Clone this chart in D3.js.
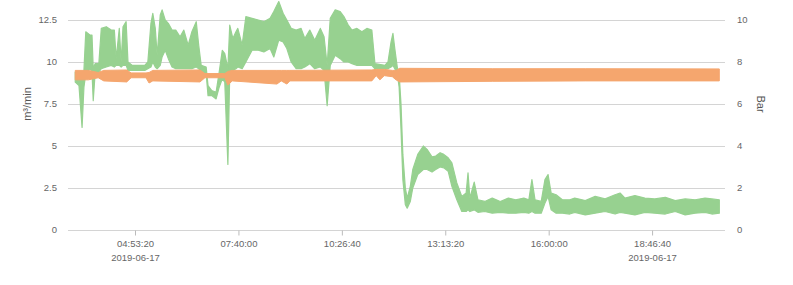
<!DOCTYPE html>
<html><head><meta charset="utf-8">
<script src="https://cdn.jsdelivr.net/npm/d3@7/dist/d3.min.js"></script>
<style>
body{margin:0;background:#fff;}
text{font-family:"Liberation Sans",Arial,sans-serif;}
</style></head>
<body><svg id="chart" width="793" height="285"></svg>
<script>
// ---- data ----
const flowTimes = ["03:17","03:23","03:28","03:31","03:34","03:41","03:44","03:46","03:49","03:55",
"03:59","04:07","04:15","04:20","04:23","04:28","04:31","04:34","04:39","04:42",
"04:49","05:09","05:14","05:19","05:22","05:26","05:29","05:34","05:37","05:42",
"05:47","05:53","05:59","06:06","06:12","06:19","06:25","06:32","06:36","06:40",
"06:48","06:51","06:57","07:04","07:09","07:14","07:18","07:23","07:26","07:31",
"07:36","07:39","07:46","07:52","08:02","08:12","08:21","08:31","08:37","08:45",
"08:52","08:58","09:05","09:13","09:21","09:27","09:35","09:43","09:52","09:58",
"10:03","10:08","10:16","10:24","10:30","10:37","10:43","10:51","10:59","11:07",
"11:15","11:20","11:36","11:41","11:46","11:49","11:52","11:56","11:59","12:02",
"12:05","12:09","12:12","12:17","12:21","12:29","12:38","12:44","12:52","12:58",
"13:05","13:11","13:18","13:24","13:32","13:40","13:47","13:50","13:53","14:00",
"14:06","14:17","14:29","14:42","14:55","15:07","15:20","15:28","15:33","15:38",
"15:48","15:54","15:59","16:04","16:12","16:22","16:34","16:42","16:59","17:15",
"17:31","17:47","17:55","18:03","18:19","18:35","18:51","19:08","19:24","19:40",
"19:56","20:12","20:23","20:35"];
const flowLow = [8.8,8.6,6.1,8.5,9.3,9.6,9.4,7.7,9.3,9.4,
9.6,9.7,9.8,9.7,9.8,9.8,9.7,9.8,9.8,9.5,
9.5,9.5,9.6,9.7,10.0,9.7,9.6,9.8,10.3,10.7,
10.2,9.7,9.6,9.6,9.6,9.6,9.6,9.7,9.6,9.4,
9.3,8.0,8.0,7.8,8.5,9.0,8.8,3.9,9.3,9.5,
9.6,9.7,9.6,10.0,10.7,10.7,10.6,10.8,10.3,11.3,
11.2,10.8,10.0,9.6,9.6,9.7,9.9,9.6,9.7,9.5,
7.4,9.8,10.4,10.2,10.0,10.0,9.9,9.8,9.8,9.8,
9.8,9.6,9.6,9.6,9.7,9.8,9.6,9.3,8.5,6.0,
3.0,1.5,1.3,1.7,2.5,3.3,3.6,3.6,3.45,3.6,
3.75,3.7,3.5,2.6,1.8,1.1,1.1,1.2,1.1,1.2,
1.05,1.1,1.0,1.05,1.0,1.0,1.05,1.0,1.1,1.0,
1.0,1.6,2.0,1.2,1.0,1.0,0.95,1.05,0.9,1.0,
1.1,0.95,1.05,1.0,0.9,1.05,1.0,0.95,1.1,0.9,
1.0,1.05,0.95,1.0];
const flowHigh = [9.4,9.3,9.2,9.5,11.8,11.6,11.6,9.6,9.9,9.9,
12.0,12.1,11.9,11.9,10.2,12.0,10.0,12.1,12.4,10.0,
9.8,9.8,10.0,12.3,12.9,12.0,10.4,12.8,13.1,12.5,
12.3,11.9,11.9,11.5,11.9,11.0,11.8,12.4,11.0,9.8,
9.7,8.6,8.3,8.2,9.4,10.7,10.5,9.6,12.2,11.4,
11.8,12.0,11.0,12.7,12.6,12.5,12.4,12.6,13.0,13.6,
12.9,12.5,12.0,11.9,12.0,11.4,11.9,11.3,12.0,11.5,
9.8,12.6,13.1,13.0,12.7,12.2,11.9,12.0,11.8,12.0,
11.9,9.9,9.8,10.0,11.2,11.7,10.8,9.7,9.3,7.5,
4.5,2.5,1.9,2.6,3.6,4.5,5.0,4.8,4.35,4.4,
4.6,4.5,4.3,4.0,2.8,2.0,2.2,3.4,1.9,2.85,
1.8,1.7,1.9,1.7,1.9,1.8,1.9,1.8,3.0,1.8,
1.7,3.0,3.3,2.2,2.1,1.8,1.8,1.9,1.75,2.0,
1.85,2.1,2.2,1.9,2.05,1.9,1.85,1.95,1.75,1.85,
1.8,1.9,1.85,1.8];

const pressTimes = ["03:17","03:38","03:54","04:03","04:40","04:47","05:11","05:16","05:22","06:38",
"06:46","07:18","07:23","07:30","08:42","08:49","08:58","09:03","11:15","11:22",
"11:28","11:35","11:48","11:54","12:00","14:30","17:00","20:35"];
const pressLow = [7.15,7.15,7.25,7.1,7.05,7.25,7.25,7.0,7.1,7.05,
7.25,7.25,6.9,7.1,6.95,7.1,6.95,7.1,7.1,7.35,
7.15,7.35,7.3,7.15,7.05,7.08,7.1,7.1];
const pressHigh = [7.6,7.6,7.5,7.6,7.62,7.48,7.48,7.5,7.6,7.62,
7.45,7.45,7.55,7.6,7.6,7.6,7.6,7.6,7.62,7.65,
7.65,7.65,7.6,7.6,7.7,7.68,7.68,7.67];

const leftTicks = [0,2.5,5,7.5,10,12.5];
const rightTicks = [0,2,4,6,8,10];
const timeTicks = ["04:53:20","07:40:00","10:26:40","13:13:20","16:00:00","18:46:40"];
const dateLabel = "2019-06-17";
const domainStart = "03:05:20", domainEnd = "20:44:10";
const leftTitle = "m\u00B3/min", rightTitle = "Bar";

// ---- drawing ----
const svg = d3.select("#chart");
const M = {left:68, right:725, top:20, bottom:230};
const day = "2019-06-17 ";
const pHM = d3.timeParse("%Y-%m-%d %H:%M"), pHMS = d3.timeParse("%Y-%m-%d %H:%M:%S");

const x = d3.scaleTime().domain([pHMS(day+domainStart), pHMS(day+domainEnd)]).range([M.left, M.right]);
const yL = d3.scaleLinear().domain([0,12.5]).range([M.bottom, M.top]);
const yR = d3.scaleLinear().domain([0,10]).range([M.bottom, M.top]);

const grid = "#d4d4d4", txt = "#666";

// gridlines
svg.append("g").selectAll("line").data(leftTicks).join("line")
  .attr("x1", M.left).attr("x2", M.right)
  .attr("y1", d=>Math.round(yL(d))+0.5).attr("y2", d=>Math.round(yL(d))+0.5)
  .attr("stroke", grid).attr("stroke-width",1);

// left axis labels
svg.append("g").selectAll("text").data(leftTicks).join("text")
  .attr("x", M.left-11).attr("y", d=>yL(d)).attr("dy","0.35em")
  .attr("text-anchor","end").attr("font-size",9.5).attr("fill",txt).text(d=>d);
// right axis labels
svg.append("g").selectAll("text").data(rightTicks).join("text")
  .attr("x", M.right+12).attr("y", d=>yR(d)).attr("dy","0.35em")
  .attr("text-anchor","start").attr("font-size",9.5).attr("fill",txt).text(d=>d);

// x axis ticks & labels
const tks = timeTicks.map(t=>pHMS(day+t));
const xAxis = d3.axisBottom(x).tickValues(tks).tickSize(5).tickFormat(d3.timeFormat("%H:%M:%S"));
const gx = svg.append("g").attr("transform",`translate(0,${M.bottom+0.5})`).call(xAxis);
gx.select(".domain").remove();
gx.selectAll(".tick line").attr("stroke","#bbb");
gx.selectAll(".tick text").attr("fill",txt).attr("font-size",9.5).attr("dy","0.9em")
  .attr("font-family","Liberation Sans, Arial, sans-serif");
gx.selectAll(".tick").filter((d,i)=>i===0||i===tks.length-1).append("text")
  .attr("y",22).attr("dy","0.9em").attr("fill",txt).attr("font-size",9.5)
  .attr("text-anchor","middle").attr("font-family","Liberation Sans, Arial, sans-serif").text(dateLabel);

// axis titles
svg.append("text").attr("transform",`translate(31,${yL(7.5)}) rotate(-90)`)
  .attr("text-anchor","middle").attr("font-size",11).attr("fill","#555").text(leftTitle);
svg.append("text").attr("transform",`translate(757,${yL(7.5)}) rotate(90)`)
  .attr("text-anchor","middle").attr("font-size",11).attr("fill","#555").text(rightTitle);

// series
const flow = flowTimes.map((t,i)=>({t:pHM(day+t), lo:flowLow[i], hi:flowHigh[i]}));
const press = pressTimes.map((t,i)=>({t:pHM(day+t), lo:pressLow[i], hi:pressHigh[i]}));

const green = "#97d190", orange = "#f5a66e";
const areaL = d3.area().x(d=>x(d.t)).y0(d=>yL(d.lo)).y1(d=>yL(d.hi));
const areaR = d3.area().x(d=>x(d.t)).y0(d=>yR(d.lo)).y1(d=>yR(d.hi));

svg.append("path").datum(flow).attr("d",areaL).attr("fill",green)
  .attr("stroke",green).attr("stroke-width",1.2).attr("stroke-linejoin","round");
svg.append("path").datum(press).attr("d",areaR).attr("fill",orange)
  .attr("stroke",orange).attr("stroke-width",1).attr("stroke-linejoin","round");
</script></body></html>
